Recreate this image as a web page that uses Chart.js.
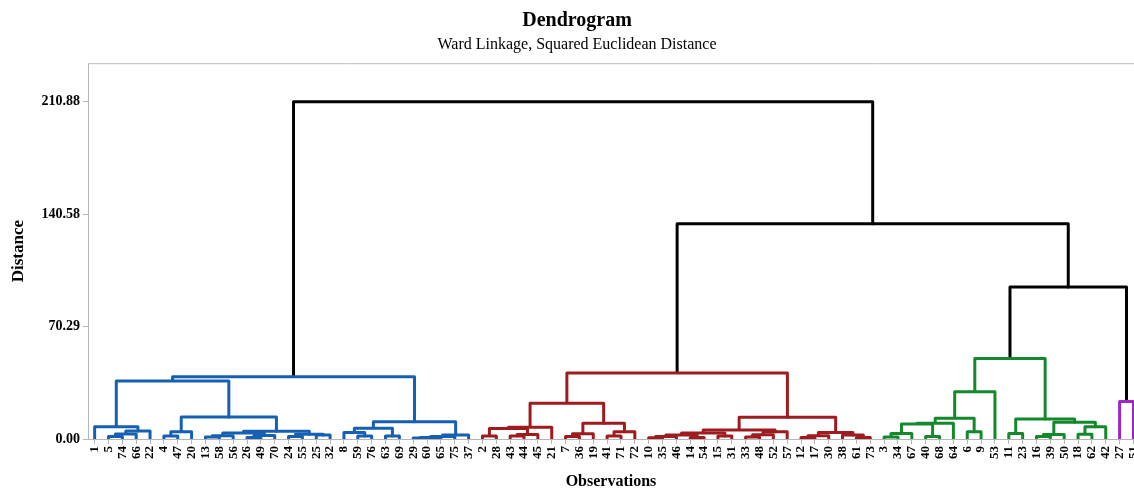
<!DOCTYPE html>
<html lang="en">
<head>
    <meta charset="UTF-8">
    <title>Dendrogram</title>
    <style>
        body { margin: 0; background: #fff; }
        canvas { display: block; }
    </style>
</head>
<body>
<canvas id="dendro" width="1134" height="488"></canvas>

<script src="https://cdn.jsdelivr.net/npm/chart.js"></script>
<script>
// leaf order along the x axis (observation numbers)
const leafOrder = [1, 5, 74, 66, 22, 4, 47, 20, 13, 58, 56, 26, 49, 70, 24, 55, 25, 32, 8, 59, 76, 63, 69, 29, 60, 65, 75, 37,
    2, 28, 43, 44, 45, 21, 7, 36, 19, 41, 71, 72, 10, 35, 46, 14, 54, 15, 31, 33, 48, 52, 57, 12, 17, 30, 38, 61, 73,
    3, 34, 67, 40, 68, 64, 6, 9, 53, 11, 23, 16, 39, 50, 18, 62, 42,
    27, 51];

// merges: [left, right, distance]; positive = observation, -k = k-th merge in this list
const merges = [
    // blue cluster
    [5, 74, 1.5], [-1, 66, 3.1], [-2, 22, 5.0], [1, -3, 7.7],
    [4, 47, 1.9], [-5, 20, 4.6],
    [13, 58, 1.2], [-7, 56, 2.0], [26, 49, 1.0], [-9, 70, 2.2], [-8, -10, 3.8],
    [24, 55, 1.5], [25, 32, 2.5], [-12, -13, 3.0], [-11, -14, 4.8],
    [-6, -15, 13.8], [-4, -16, 36.2],
    [59, 76, 1.9], [8, -18, 4.0], [63, 69, 1.9], [-19, -20, 6.7],
    [29, 60, 0.6], [-22, 65, 1.0], [-23, 75, 1.6], [-24, 37, 2.5],
    [-21, -25, 10.8], [-17, -26, 39.0],
    // red cluster
    [2, 28, 1.9], [43, 44, 1.9], [-29, 45, 2.8], [-28, -30, 6.5], [-31, 21, 7.3],
    [7, 36, 1.5], [-33, 19, 3.3], [41, 71, 1.9], [-35, 72, 4.6], [-34, -36, 9.8],
    [-32, -37, 22.3],
    [10, 35, 0.8], [-39, 46, 1.5], [14, 54, 1.0], [-40, -41, 2.5], [15, 31, 1.8], [-42, -43, 3.8],
    [33, 48, 1.2], [-45, 52, 2.6], [-46, 57, 4.5], [-44, -47, 5.6],
    [12, 17, 1.0], [-49, 30, 2.0], [61, 73, 1.0], [38, -51, 2.5], [-50, -52, 4.0],
    [-48, -53, 13.6], [-38, -54, 41.2],
    // green cluster
    [3, 34, 1.3], [-56, 67, 3.5], [40, 68, 1.5], [-57, -58, 9.4], [-59, 64, 9.9],
    [6, 9, 4.6], [-60, -61, 12.9], [-62, 53, 29.6],
    [11, 23, 3.5], [16, 39, 1.5], [-65, 50, 2.8], [18, 62, 2.9], [-67, 42, 7.7],
    [-66, -68, 10.4], [-64, -69, 12.5], [-63, -70, 50.3],
    // purple cluster
    [27, 51, 23.4],
    // joins above the clusters
    [-71, -72, 95.0], [-55, -73, 134.6], [-27, -74, 210.88]
];

// last merge number of each colour group
const groupEnds = [27, 55, 71, 72, 75];
const groupColors = ['#1660b4', '#9e1b1e', '#13892c', '#9b27c9', '#000000'];

const distanceTicks = [0, 70.29, 140.58, 210.88];

// build one bracket per merge
const pos = {};
leafOrder.forEach((obs, i) => { pos[obs] = { x: i, h: 0 }; });
const datasets = [];
merges.forEach(([a, b, h], k) => {
    const A = pos[a], B = pos[b];
    pos[-(k + 1)] = { x: (A.x + B.x) / 2, h: h };
    const g = groupEnds.findIndex(e => k + 1 <= e);
    datasets.push({
        data: [{ x: A.x, y: A.h }, { x: A.x, y: h }, { x: B.x, y: h }, { x: B.x, y: B.h }],
        borderColor: groupColors[g],
        borderWidth: 3,
        showLine: true,
        pointRadius: 0,
        borderJoinStyle: 'round'
    });
});

const frameTop = {
    id: 'frameTop',
    beforeDatasetsDraw(chart) {
        const { ctx, chartArea } = chart;
        ctx.save();
        ctx.strokeStyle = '#bdbdbd';
        ctx.lineWidth = 1;
        ctx.beginPath();
        ctx.moveTo(chartArea.left, chartArea.top + 0.5);
        ctx.lineTo(chartArea.right, chartArea.top + 0.5);
        ctx.stroke();
        ctx.restore();
    }
};

const serif = 'Liberation Serif';
new Chart(document.getElementById('dendro'), {
    type: 'scatter',
    data: { datasets: datasets },
    plugins: [frameTop],
    options: {
        responsive: false,
        animation: false,
        layout: { padding: { left: 20, right: 0, top: 0, bottom: 0 } },
        plugins: {
            legend: { display: false },
            tooltip: { enabled: false },
            title: {
                display: true,
                text: 'Dendrogram',
                color: '#000',
                font: { family: serif, size: 20, weight: 'bold' },
                padding: { top: 9, bottom: 2 }
            },
            subtitle: {
                display: true,
                text: 'Ward Linkage, Squared Euclidean Distance',
                color: '#000',
                font: { family: serif, size: 16 },
                padding: { top: 0, bottom: 9 }
            }
        },
        scales: {
            x: {
                type: 'linear',
                min: -0.48,
                max: 75.04,
                afterFit(scale) {
                    scale.height = 49;
                    scale.paddingLeft = 0;
                    scale.paddingRight = 0;
                },
                afterBuildTicks(scale) { scale.ticks = leafOrder.map((_, i) => ({ value: i })); },
                ticks: {
                    autoSkip: false,
                    minRotation: 90,
                    maxRotation: 90,
                    padding: 2,
                    color: '#000',
                    font: { family: serif, size: 13, weight: 'bold' },
                    callback: v => leafOrder[v]
                },
                grid: { drawOnChartArea: false, drawTicks: true, tickLength: 5, color: '#b5b5b5' },
                border: { color: '#b5b5b5' },
                title: {
                    display: true,
                    text: 'Observations',
                    color: '#000',
                    font: { family: serif, size: 16, weight: 'bold' },
                    padding: { top: 0, bottom: -3 }
                }
            },
            y: {
                min: 0,
                max: 235,
                afterFit(scale) { scale.width = 68; },
                afterBuildTicks(scale) { scale.ticks = distanceTicks.map(v => ({ value: v })); },
                ticks: {
                    padding: 3,
                    color: '#000',
                    font: { family: serif, size: 14, weight: 'bold' },
                    callback: v => v.toFixed(2)
                },
                grid: { drawOnChartArea: false, drawTicks: true, tickLength: 5, color: '#b5b5b5' },
                border: { color: '#b5b5b5' },
                title: {
                    display: true,
                    text: 'Distance',
                    color: '#000',
                    font: { family: serif, size: 17, weight: 'bold' },
                    padding: { top: -12, bottom: 0 }
                }
            }
        }
    }
});
</script>
</body>
</html>
